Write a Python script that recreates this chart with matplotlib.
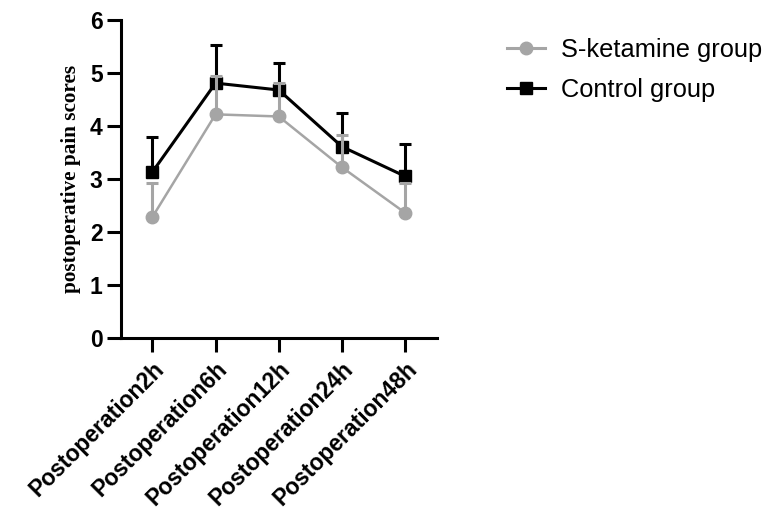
import matplotlib
matplotlib.use("Agg")
import matplotlib.pyplot as plt
from matplotlib.lines import Line2D
import numpy as np

categories = ["Postoperation2h", "Postoperation6h", "Postoperation12h",
              "Postoperation24h", "Postoperation48h"]
sket_mean = [2.28, 4.22, 4.18, 3.22, 2.36]
sket_upper = [2.92, 4.94, 4.82, 3.83, 2.93]
ctrl_mean = [3.13, 4.81, 4.68, 3.61, 3.05]
ctrl_upper = [3.80, 5.53, 5.19, 4.24, 3.66]
yticks = [0, 1, 2, 3, 4, 5, 6]

fig = plt.figure(figsize=(7.69, 5.15), dpi=100)
ax = fig.add_axes([0.157, 0.344, 0.411, 0.617])

x = np.arange(len(categories))
gray = "#A5A5A5"

ctrl_err = [np.zeros(len(x)), np.array(ctrl_upper) - np.array(ctrl_mean)]
sket_err = [np.zeros(len(x)), np.array(sket_upper) - np.array(sket_mean)]

ax.errorbar(x, ctrl_mean, yerr=ctrl_err, color="black", lw=2.2, marker="s",
            markersize=9, capsize=4.5, capthick=2.2, elinewidth=2.2,
            zorder=3)
ax.errorbar(x, sket_mean, yerr=sket_err, color=gray, lw=1.8, marker="o",
            markersize=9, capsize=4.5, capthick=2.2, elinewidth=2.2,
            zorder=4)

ax.set_xlim(-0.5, 4.5)
ax.set_ylim(0, 6)
ax.set_yticks(yticks)
ax.set_xticks(x)
ax.set_xticklabels(categories, rotation=45, ha="right", rotation_mode="anchor",
                   fontsize=16.5, fontweight="bold", family="Liberation Sans")
for lbl in ax.get_yticklabels():
    lbl.set_fontsize(16.5)
    lbl.set_fontweight("bold")
    lbl.set_family("Liberation Sans")

for s in ["top", "right"]:
    ax.spines[s].set_visible(False)
for s in ["left", "bottom"]:
    ax.spines[s].set_linewidth(2.2)
ax.tick_params(axis="both", width=2.2, length=10, direction="out")
ax.tick_params(axis="y", pad=3)
ax.tick_params(axis="x", pad=4)

ax.set_ylabel("postoperative pain scores", fontsize=15.3, fontweight="bold",
              family="Liberation Serif", labelpad=6)

handles = [Line2D([], [], color=gray, lw=2.2, marker="o", markersize=9),
           Line2D([], [], color="black", lw=2.2, marker="s", markersize=9)]
fig.legend(handles, ["S-ketamine group", "Control group"], loc="upper left",
           bbox_to_anchor=(0.63, 0.97), frameon=False,
           prop={"family": "Liberation Sans", "size": 18.3},
           handlelength=1.5, handletextpad=0.6, labelspacing=0.6)

fig.savefig("out.png", dpi=100)
